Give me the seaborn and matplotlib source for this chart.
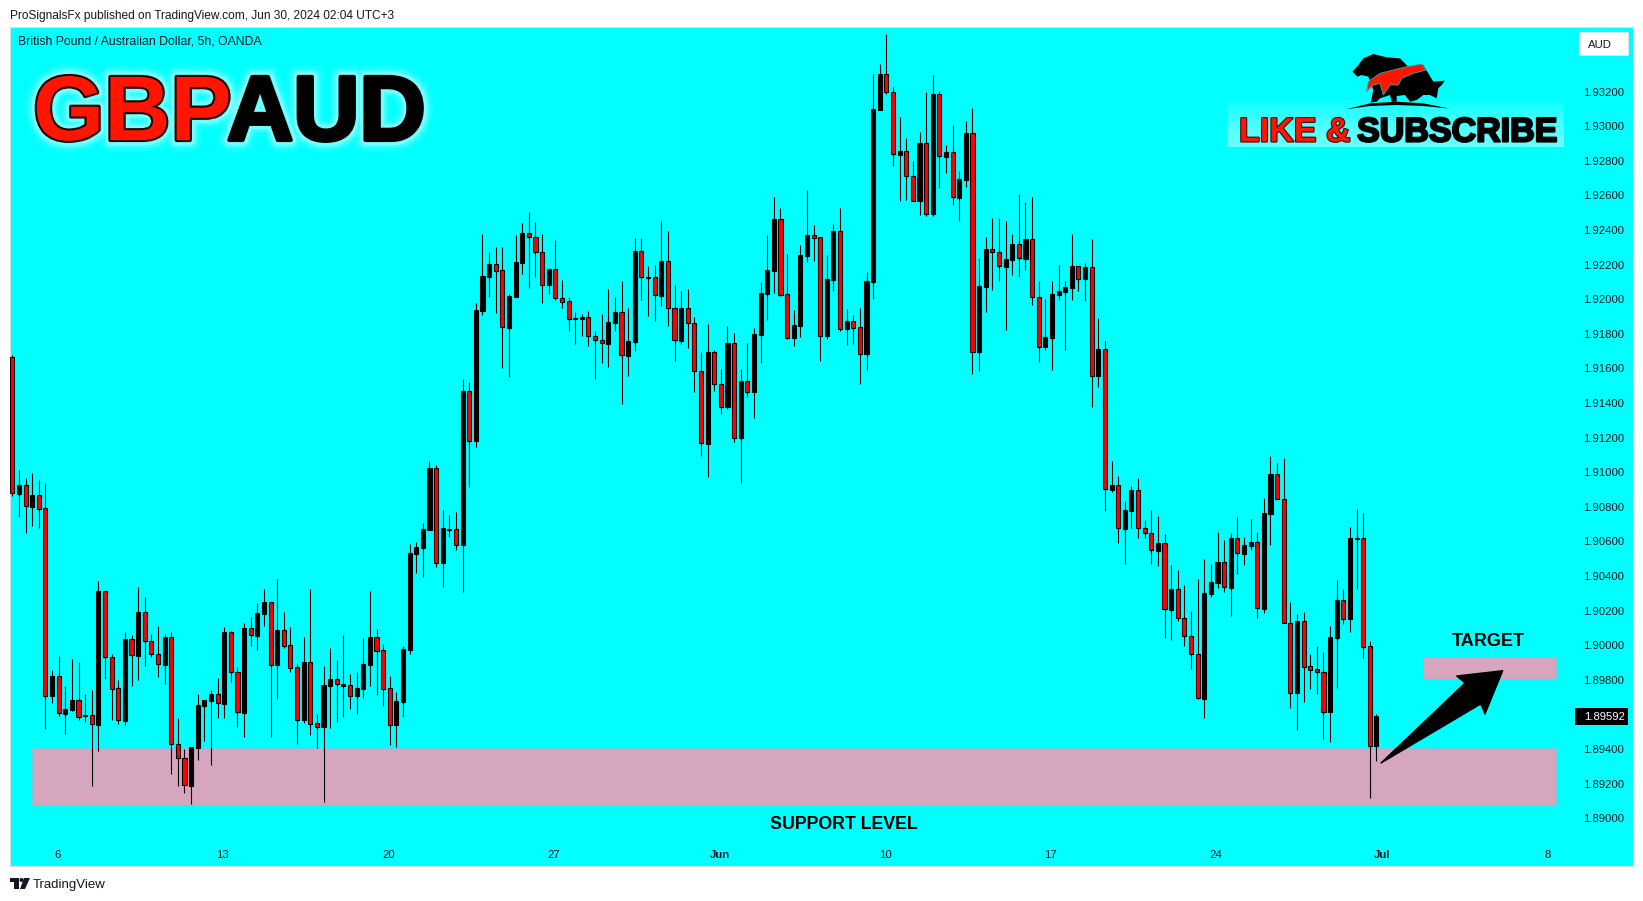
import matplotlib
matplotlib.use("Agg")
import matplotlib.pyplot as plt
import matplotlib.patheffects as pe
from matplotlib.patches import Polygon, Rectangle, FancyBboxPatch, Ellipse
import seaborn as sns
import numpy as np
import pandas as pd

W, H = 1643, 901

# 5h candles
tops = [1.91665,1.90925,1.90925,1.90867,1.90867,1.90792,1.89823,1.89821,1.89632,1.89684,1.89682,1.89595,1.89595,1.90314,1.90312,1.89930,1.89751,1.90036,1.90035,1.90193,1.90191,1.90023,1.89948,1.90048,1.90046,1.89428,1.89347,1.89412,1.89655,1.89684,1.89718,1.89717,1.90077,1.90075,1.89844,1.90100,1.90098,1.90187,1.90250,
1.90248,1.90088,1.90086,1.89999,1.89872,1.89903,1.89901,1.89548,1.89770,1.89805,1.89803,1.89776,1.89768,1.89753,1.89891,1.90047,1.90045,1.89970,1.89751,1.89677,1.89978,1.90533,1.90568,1.90670,1.91024,1.91022,1.90678,1.90674,1.90670,
1.91470,1.91470,1.91938,1.92135,1.92204,1.92202,1.92168,1.92019,1.92216,1.92383,1.92381,1.92358,1.92272,1.92175,1.92173,1.92006,1.91988,1.91892,1.91898,1.91896,1.91786,1.91763,1.91869,1.91927,1.91925,1.91759,1.92279,1.92277,1.92129,1.92127,1.92222,1.92220,1.91948,1.91950,1.91948,1.91861,1.91584,1.91695,1.91694,
1.91508,1.91747,1.91747,1.91527,1.91527,1.91799,1.92036,1.92169,1.92464,1.92462,1.92028,1.91851,1.92256,1.92371,1.92369,1.92358,1.92117,1.92394,1.92392,1.91874,1.91872,1.91837,1.92105,
1.93099,1.93302,1.93300,1.93196,1.92857,1.92855,1.92710,1.92903,1.92901,1.93186,1.93184,1.92851,1.92849,1.92695,1.92961,1.92959,1.92076,1.92290,1.92288,1.92271,1.92232,1.92319,1.92317,1.92348,1.92346,1.92016,1.91781,1.92030,1.92047,1.92070,1.92192,1.92190,1.92186,
1.92184,1.91712,1.91710,1.90926,1.90924,1.90782,1.90897,1.90895,1.90676,1.90647,1.90591,1.90589,1.90325,1.90323,1.90155,1.90051,1.89947,1.90302,1.90365,1.90481,1.90479,1.90620,1.90618,1.90579,1.90597,1.90595,1.90764,1.90990,1.90988,1.90843,1.90126,1.90140,1.90138,1.89878,1.89860,1.89843,1.90047,1.90261,1.90259,1.90620,
1.90618,1.90618,1.89994,1.89591]
bottoms = [1.90879,1.90877,1.90803,1.90802,1.90790,1.89709,1.89709,1.89607,1.89605,1.89628,1.89587,1.89593,1.89543,1.89539,1.89930,1.89749,1.89566,1.89564,1.89942,1.89940,1.90023,1.89948,1.89890,1.89888,1.89428,1.89347,1.89191,1.89189,1.89408,1.89651,1.89680,1.89665,1.89663,1.89844,1.89612,1.89611,1.90058,1.90056,1.90183,
1.89887,1.89887,1.89997,1.89870,1.89569,1.89569,1.89546,1.89529,1.89529,1.89766,1.89774,1.89766,1.89708,1.89708,1.89749,1.89887,1.89968,1.89749,1.89541,1.89541,1.89674,1.89974,1.90529,1.90564,1.90668,1.90477,1.90477,1.90668,1.90581,
1.90581,1.91183,1.91183,1.91934,1.92131,1.92166,1.91838,1.91836,1.92015,1.92212,1.92358,1.92272,1.92085,1.92083,1.92006,1.91986,1.91884,1.91888,1.91888,1.91786,1.91763,1.91746,1.91744,1.91865,1.91676,1.91674,1.91755,1.92127,1.92125,1.92023,1.92021,1.91948,1.91763,1.91761,1.91861,1.91584,1.91167,1.91166,1.91509,
1.91379,1.91379,1.91200,1.91200,1.91466,1.91466,1.91795,1.92032,1.92165,1.92026,1.91778,1.91778,1.91847,1.92252,1.92356,1.91789,1.91789,1.92113,1.91830,1.91830,1.91836,1.91685,1.91685,
1.92101,1.93096,1.93196,1.92837,1.92835,1.92710,1.92569,1.92569,1.92494,1.92494,1.92826,1.92824,1.92589,1.92587,1.92691,1.91698,1.91697,1.92072,1.92271,1.92190,1.92188,1.92228,1.92236,1.92234,1.92014,1.91727,1.91725,1.91777,1.92026,1.92043,1.92067,1.92119,1.92119,
1.91558,1.91558,1.90901,1.90899,1.90676,1.90674,1.90778,1.90676,1.90647,1.90548,1.90546,1.90207,1.90205,1.90155,1.90051,1.89947,1.89693,1.89691,1.90298,1.90361,1.90334,1.90333,1.90531,1.90529,1.90575,1.90213,1.90211,1.90760,1.90843,1.90126,1.89727,1.89725,1.89876,1.89858,1.89843,1.89616,1.89614,1.90043,1.90153,1.90151,
1.90614,1.89992,1.89420,1.89420]
highs = [1.91678,1.91013,1.90965,1.90994,1.90956,1.90936,1.89857,1.89938,1.89765,1.89921,1.89903,1.89718,1.89742,1.90372,1.90312,1.89950,1.89799,1.90077,1.90060,1.90337,1.90279,1.90065,1.90112,1.90065,1.90077,1.89580,1.89401,1.89412,1.89718,1.89684,1.89742,1.89811,1.90106,1.90083,1.89875,1.90129,1.90164,1.90245,1.90326,
1.90250,1.90383,1.90192,1.90105,1.89891,1.90047,1.90325,1.89602,1.89880,1.89984,1.89914,1.90059,1.89833,1.89847,1.90042,1.90313,1.90094,1.90007,1.89822,1.89729,1.89995,1.90585,1.90597,1.90706,1.91065,1.91040,1.90782,1.90753,1.90770,
1.91537,1.91522,1.91979,1.92378,1.92274,1.92302,1.92302,1.92031,1.92372,1.92441,1.92505,1.92447,1.92378,1.92181,1.92343,1.92112,1.92013,1.91927,1.91915,1.91933,1.91817,1.91915,1.92060,1.92013,1.92106,1.91950,1.92355,1.92355,1.92193,1.92198,1.92453,1.92395,1.92083,1.92048,1.92060,1.91898,1.91695,1.91857,1.91707,
1.91597,1.91845,1.91805,1.91597,1.91747,1.91834,1.92100,1.92371,1.92591,1.92527,1.92261,1.91938,1.92313,1.92631,1.92429,1.92358,1.92256,1.92435,1.92527,1.91943,1.91909,1.91949,1.92157,
1.93302,1.93360,1.93533,1.93227,1.93053,1.92932,1.92799,1.92966,1.93198,1.93296,1.93203,1.92891,1.93007,1.92741,1.93030,1.93105,1.92238,1.92359,1.92469,1.92469,1.92452,1.92377,1.92608,1.92562,1.92591,1.92105,1.92001,1.92105,1.92198,1.92105,1.92377,1.92190,1.92209,
1.92348,1.91891,1.91758,1.91065,1.90978,1.90834,1.90920,1.90966,1.90724,1.90782,1.90747,1.90643,1.90464,1.90435,1.90348,1.90198,1.90383,1.90498,1.90469,1.90654,1.90608,1.90649,1.90741,1.90625,1.90729,1.90654,1.90851,1.91094,1.91053,1.91082,1.90250,1.90180,1.90192,1.89949,1.89995,1.89961,1.90111,1.90377,1.90325,1.90683,
1.90788,1.90765,1.90023,1.89603]
lows = [1.90865,1.90744,1.90651,1.90692,1.90680,1.89518,1.89668,1.89593,1.89489,1.89620,1.89570,1.89559,1.89189,1.89391,1.89805,1.89570,1.89547,1.89539,1.89767,1.89801,1.89882,1.89934,1.89819,1.89778,1.89258,1.89189,1.89148,1.89085,1.89339,1.89449,1.89310,1.89582,1.89582,1.89790,1.89530,1.89472,1.89998,1.89975,1.90114,
1.89471,1.89691,1.89986,1.89847,1.89431,1.89552,1.89483,1.89408,1.89095,1.89523,1.89558,1.89587,1.89633,1.89604,1.89697,1.89766,1.89714,1.89650,1.89425,1.89413,1.89587,1.89951,1.90419,1.90396,1.90668,1.90454,1.90338,1.90627,1.90552,
1.90309,1.90917,1.91148,1.91911,1.92015,1.91923,1.91605,1.91553,1.92015,1.92148,1.92067,1.92131,1.91981,1.92033,1.91998,1.91952,1.91819,1.91744,1.91790,1.91732,1.91541,1.91634,1.91611,1.91819,1.91397,1.91559,1.91703,1.91998,1.91906,1.91877,1.91963,1.91848,1.91645,1.91744,1.91721,1.91466,1.91096,1.90975,1.91472,
1.91338,1.91367,1.91176,1.90939,1.91437,1.91315,1.91633,1.91882,1.92038,1.92021,1.91772,1.91731,1.91783,1.92217,1.92223,1.91645,1.91772,1.92049,1.91818,1.91737,1.91743,1.91512,1.91593,
1.92003,1.93096,1.93184,1.92772,1.92569,1.92575,1.92569,1.92489,1.92483,1.92483,1.92645,1.92731,1.92546,1.92454,1.92650,1.91569,1.91587,1.91928,1.92055,1.92107,1.91824,1.92142,1.92130,1.92171,1.91968,1.91639,1.91708,1.91592,1.91997,1.91708,1.91997,1.92049,1.91991,
1.91379,1.91494,1.90778,1.90887,1.90593,1.90471,1.90679,1.90622,1.90622,1.90471,1.90460,1.90043,1.90032,1.90142,1.89997,1.89864,1.89691,1.89581,1.90280,1.90333,1.90309,1.90171,1.90413,1.90465,1.90550,1.90159,1.90188,1.90581,1.90843,1.90126,1.89639,1.89512,1.89673,1.89749,1.89720,1.89460,1.89443,1.89754,1.90124,1.90078,
1.90325,1.89928,1.89119,1.89331]
# 1 = black (rising) candle, 0 = red (falling) candle
rising = [0,1,0,1,0,0,1,0,1,1,0,1,0,1,0,0,0,1,0,1,0,0,0,1,0,0,0,1,1,1,1,0,1,0,0,1,0,1,1,
0,1,0,0,0,1,0,0,1,1,0,1,0,1,1,1,0,0,0,1,1,1,1,1,1,0,1,1,0,
1,0,1,1,1,0,0,1,1,1,0,0,0,1,0,0,0,1,1,0,0,0,1,1,0,1,1,0,1,0,1,0,0,1,0,0,0,1,0,
0,1,0,1,0,1,1,1,1,0,0,1,1,1,0,0,1,1,0,1,0,0,1,
1,1,0,0,1,0,0,1,0,1,0,1,0,1,1,0,1,1,0,0,1,1,0,1,0,0,1,1,1,1,1,0,1,
0,1,0,1,0,1,1,0,0,0,1,0,1,0,0,0,0,1,1,1,0,1,0,1,1,0,1,1,0,0,0,1,0,0,0,0,1,1,0,1,
1,0,0,1]

x_ticks = [6.8, 31.8, 56.8, 81.8, 106.8, 131.8, 156.8, 181.8, 206.8, 231.8]
x_labels = ["6", "13", "20", "27", "Jun", "10", "17", "24", "Jul", "8"]
bold_labels = ["Jun", "Jul"]
y_ticks = [1.890 + 0.002 * i for i in range(22)]
last_price = 1.89592

df = pd.DataFrame({"top": tops, "bottom": bottoms, "high": highs, "low": lows, "rising": rising})
df["idx"] = df.index
df["height"] = df["top"] - df["bottom"]

sns.set_theme(style="white")
plt.rcParams["font.family"] = ["Liberation Sans", "DejaVu Sans"]

fig = plt.figure(figsize=(W / 100, H / 100), dpi=100, facecolor="white")
ax = fig.add_axes([10 / W, 1 - 865.5 / H, 1622.7 / W, 838.5 / H])
ax.set_facecolor("#00FFFF")


def fp(x, y):
    return (x / W, 1 - y / H)


def ftext(x, y, s, **kw):
    kw.setdefault("va", "center")
    return fig.text(x / W, 1 - y / H, s, **kw)


def fpoly(pts, **kw):
    p = Polygon([fp(a, b) for a, b in pts], closed=True, transform=fig.transFigure, zorder=6, **kw)
    fig.add_artist(p)
    return p


def frect(x0, y0, x1, y1, **kw):
    p = Rectangle(fp(x0, y1), (x1 - x0) / W, (y1 - y0) / H, transform=fig.transFigure, zorder=5, **kw)
    fig.add_artist(p)
    return p


# zones
zone_col = "#D5A6BD"
zone_edge = "#7CC4DC"
ax.add_patch(Rectangle((3.0, 1.89077), 230.1, 1.89408 - 1.89077, fc=zone_col, ec=zone_edge, lw=0.8, zorder=1))
ax.add_patch(Rectangle((213.0, 1.89803), 20.1, 1.89934 - 1.89803, fc=zone_col, ec=zone_edge, lw=0.8, zorder=1))

# wicks and bodies
ax.vlines(df["idx"], df["low"], df["high"], color="black", lw=0.8, zorder=2)
for flag, col in [(1, "black"), (0, "#FF0000")]:
    part = df[df["rising"] == flag]
    sns.barplot(data=part, x="idx", y="height", bottom=part["bottom"].values, native_scale=True,
                color=col, saturation=1, width=0.62, errorbar=None, edgecolor="black",
                linewidth=0.8, ax=ax, zorder=3)

ax.set_xlim(-0.35, 244.7)
ax.set_ylim(1.88727, 1.93574)
ax.set_xlabel("")
ax.set_ylabel("")
ax.grid(False)

ax.yaxis.tick_right()
ax.set_yticks(y_ticks)
ax.set_yticklabels([f"{v:.5f}" for v in y_ticks])
ax.tick_params(axis="y", length=0, pad=-35.5, labelsize=8.1, labelcolor="#131722")
ax.set_xticks(x_ticks)
ax.set_xticklabels(x_labels)
ax.tick_params(axis="x", length=0, pad=-11.5, labelsize=8.2, labelcolor="#131722")
for lab in ax.get_xticklabels():
    if lab.get_text() in bold_labels:
        lab.set_fontweight("bold")
for s in ax.spines.values():
    s.set_color("#D6DCE8")
    s.set_linewidth(0.8)

# header and footer
ftext(10, 16, "ProSignalsFx published on TradingView.com, Jun 30, 2024 02:04 UTC+3", fontsize=8.55, color="#131722")
ftext(18, 42, "British Pound / Australian Dollar, 5h, OANDA", fontsize=8.8, color="#131722")
ftext(33, 885, "TradingView", fontsize=9.5, color="#131722")
fpoly([(10, 878), (19, 878), (19, 889), (14, 889), (14, 882), (10, 882)], fc="#131722", ec="none")
fpoly([(24, 878), (30, 878), (25, 889), (20, 889)], fc="#131722", ec="none")
fig.add_artist(Ellipse(fp(21.5, 880), 4 / W, 4 / H, transform=fig.transFigure, fc="#131722", ec="none", zorder=6))

# big pair name
glow = [pe.withStroke(linewidth=w, foreground="white", alpha=a) for w, a in [(17, 0.08), (12, 0.16), (8, 0.3)]]
ftext(33, 116, "GBP", fontsize=66, fontweight="bold", color="#FF1500", va="center", zorder=7,
      path_effects=glow + [pe.withStroke(linewidth=3, foreground="#200000")])
ftext(227, 116, "AUD", fontsize=66, fontweight="bold", color="black", va="center", zorder=7,
      path_effects=glow + [pe.withStroke(linewidth=3, foreground="black")])

# like and subscribe logo, white fading out upwards
for i in range(10):
    frect(1227, 100 + i * 4, 1564, 147, fc="white", ec="none", alpha=0.05)


def zp(pts):
    return [(1220 + a / 3, 20 + b / 3) for a, b in pts]


fpoly(zp([(397, 155), (415, 135), (430, 115), (460, 102), (500, 112), (540, 115), (565, 140), (610, 135), (622, 155),
          (640, 185), (675, 182), (665, 195), (655, 205), (650, 235), (630, 225), (610, 225), (590, 240), (570, 245),
          (555, 225), (530, 228), (530, 245), (515, 245), (510, 225), (480, 235), (470, 245), (452, 248), (460, 210),
          (445, 170), (425, 165), (412, 170)]), fc="black", ec="none")
fpoly(zp([(440, 215), (445, 185), (480, 160), (560, 140), (605, 132), (618, 150), (580, 160), (545, 175), (535, 195),
          (510, 195), (490, 225), (480, 190), (460, 195)]), fc="#FF1500", ec="#3FA7A7", lw=0.6)
fpoly(zp([(378, 268), (450, 250), (530, 245), (610, 250), (690, 266), (610, 258), (530, 255), (450, 258)]),
      fc="black", ec="none")
ftext(1239, 133, "LIKE &", fontsize=24.5, fontweight="bold", color="#FF1500", zorder=7,
      path_effects=[pe.withStroke(linewidth=1.6, foreground="#301010")])
ftext(1357, 133, "SUBSCRIBE", fontsize=24.5, fontweight="bold", color="black", zorder=7,
      path_effects=[pe.withStroke(linewidth=1.6, foreground="black")])

# annotations
ftext(1488, 641, "TARGET", fontsize=13, fontweight="bold", color="black", ha="center", zorder=7)
ftext(843.5, 824.5, "SUPPORT LEVEL", fontsize=12.8, fontweight="bold", color="black", ha="center", zorder=7)
fpoly([(1381, 763), (1465, 683), (1456.7, 676), (1502.7, 670.7), (1485, 714), (1480.7, 704)], fc="black", ec="black",
      lw=1, joinstyle="round")

# price badge and currency button
frect(1575, 708, 1628, 725, fc="black", ec="none")
ftext(1584, 716.5, f"{last_price:.5f}", fontsize=8.1, color="white", zorder=7)
fig.add_artist(FancyBboxPatch(fp(1581, 55), 46 / W, 22 / H, boxstyle="round,pad=0.001", transform=fig.transFigure,
                              fc="white", ec="#E0E3EB", lw=0.6, zorder=6, mutation_aspect=H / W))
ftext(1588, 45, "AUD", fontsize=8.2, color="#131722", zorder=7)

fig.savefig("out.png", dpi=100, facecolor="white")
